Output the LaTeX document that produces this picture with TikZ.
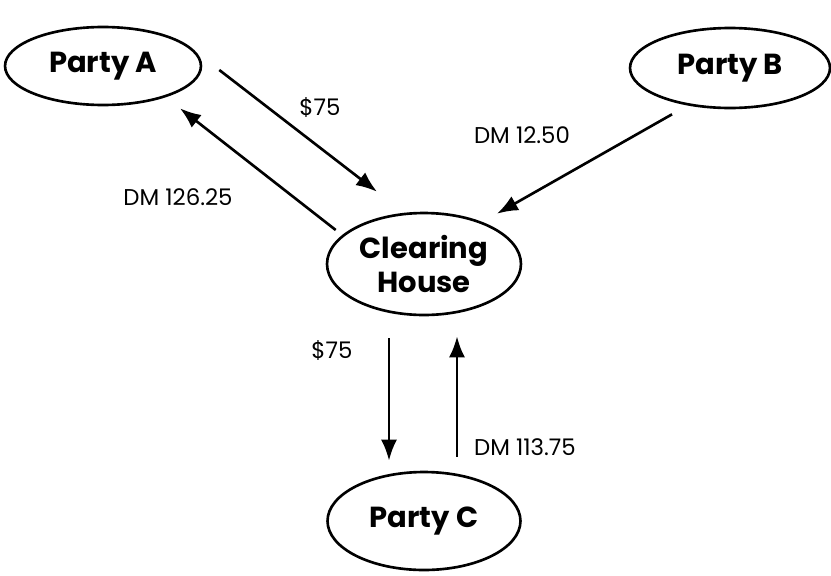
\documentclass[tikz,border=0pt]{standalone}
\usepackage{fontspec}
\setmainfont{Poppins}
\usetikzlibrary{shapes.geometric,arrows.meta}
\begin{document}
\begin{tikzpicture}[x=0.02cm,y=-0.02cm]

\definecolor{def_node_fill}{RGB}{255,255,255}
\definecolor{def_node_text}{RGB}{0,0,0}
\definecolor{def_node_draw}{RGB}{0,0,0}
\tikzstyle{party_node_style}=[ellipse,draw=def_node_draw,fill=def_node_fill,text=def_node_text,line width=1.5pt,inner sep=0pt,font=\fontsize{16.5}{19}\selectfont\bfseries,align=center]

\definecolor{def_edge_draw}{RGB}{0,0,0}
\definecolor{def_edge_text}{RGB}{0,0,0}
\tikzstyle{flow_edge_style}=[draw=def_edge_draw,line width=1.5pt,-{Latex[length=4.2mm,width=3.2mm]}]
\tikzstyle{amount_style}=[text=def_edge_text,inner sep=0pt,font=\fontsize{13}{15}\selectfont]

\useasboundingbox (0,0) rectangle (831,575);

\node(partyA) at (103,66) [party_node_style,minimum width=3.92cm,minimum height=1.56cm] {Party A};

\node(partyB) at (730,68) [party_node_style,minimum width=4.0cm,minimum height=1.6cm] {Party B};

\node(house) at (424,264) [party_node_style,minimum width=3.88cm,minimum height=2.04cm] {Clearing\\House};

\node(partyC) at (424,521) [party_node_style,minimum width=3.86cm,minimum height=1.96cm] {Party C};

\node(usdA) at (320,107) [amount_style] {\$75};
\node(dmA) at (178,197) [amount_style] {DM 126.25};
\node(dmB) at (522,135) [amount_style] {DM 12.50};
\node(usdC) at (332,350) [amount_style] {\$75};
\node(dmC) at (525,447) [amount_style] {DM 113.75};

\draw[flow_edge_style]([shift={(17,4)}]partyA.east) -- ([shift={(-47,-20)}]house.north);
\draw[flow_edge_style]([shift={(10,-34)}]house.west) -- ([shift={(77,2)}]partyA.south);
\draw[flow_edge_style]([shift={(-58,5)}]partyB.south) -- ([shift={(73,2)}]house.north);
\draw[flow_edge_style]([shift={(-35,22)}]house.south) -- ([shift={(-35,-10)}]partyC.north);
\draw[flow_edge_style]([shift={(33,-14)}]partyC.north) -- ([shift={(33,20)}]house.south);

\end{tikzpicture}
\end{document}
